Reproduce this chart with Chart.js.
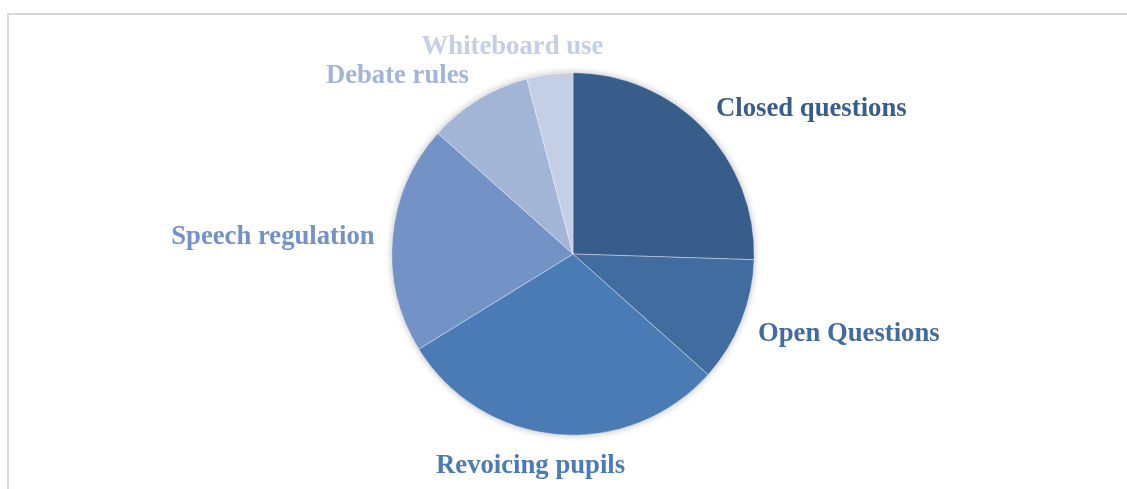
<!DOCTYPE html>
<html>
<head>
<meta charset="utf-8">
<script src="https://cdn.jsdelivr.net/npm/chart.js@4/dist/chart.umd.min.js"></script>
<style>
  html, body { margin: 0; padding: 0; background: #fff; }
  #wrap { position: relative; width: 1127px; height: 489px; overflow: hidden; }
  #frame { position: absolute; left: 7px; top: 13px; width: 1140px; height: 500px; border: 2px solid #d9d9d9; box-sizing: border-box; }
  #pie { position: absolute; left: 0; top: 0; }
</style>
</head>
<body>
<div id="wrap">
  <div id="frame"></div>
  <canvas id="pie" width="1127" height="489"></canvas>
</div>
<script>
const labels = ['Closed questions', 'Open Questions', 'Revoicing pupils', 'Speech regulation', 'Debate rules', 'Whiteboard use'];
const values = [25.5, 11.1, 29.6, 20.4, 9.3, 4.1];
const colors = ['#385D8A', '#416C9F', '#4A7BB5', '#7392C5', '#A3B5D7', '#C4CEE4'];

// soft shadow behind the pie
const pieShadow = {
    id: 'pieShadow',
    beforeDatasetsDraw(chart) {
        const arc = chart.getDatasetMeta(0).data[0];
        if (!arc) return;
        const ctx = chart.ctx;
        ctx.save();
        ctx.shadowColor = 'rgba(0,0,0,0.28)';
        ctx.shadowBlur = 7;
        ctx.fillStyle = '#fff';
        ctx.beginPath();
        ctx.arc(arc.x, arc.y, arc.outerRadius, 0, Math.PI * 2);
        ctx.fill();
        ctx.restore();
    }
};

const clamp = (v) => Math.max(0, Math.min(1, v));

// category labels outside each slice, coloured like the slice
const outsideLabels = {
    id: 'outsideLabels',
    afterDatasetsDraw(chart) {
        const ctx = chart.ctx;
        const meta = chart.getDatasetMeta(0);
        const h = 26.7;
        ctx.save();
        ctx.font = 'bold 26.7px "Liberation Serif", "Times New Roman", serif';
        ctx.textAlign = 'left';
        ctx.textBaseline = 'top';
        meta.data.forEach(function(arc, i) {
            const mid = (arc.startAngle + arc.endAngle) / 2;
            const dx = Math.cos(mid), dy = Math.sin(mid);
            const r = arc.outerRadius + 18;
            const ax = arc.x + dx * r, ay = arc.y + dy * r;
            const w = ctx.measureText(labels[i]).width;
            const left = ax - w * clamp(0.5 - 1.5 * dx);
            const top = ay - h * clamp(0.42 - 0.45 * dy);
            ctx.fillStyle = colors[i];
            ctx.fillText(labels[i], left, top);
        });
        ctx.restore();
    }
};

new Chart(document.getElementById('pie').getContext('2d'), {
    type: 'pie',
    data: {
        labels: labels,
        datasets: [{
            data: values,
            backgroundColor: colors,
            borderColor: 'rgba(255,255,255,0.6)',
            borderWidth: 0.6
        }]
    },
    options: {
        responsive: false,
        animation: false,
        layout: { padding: { left: 19, right: 0, top: 72.5, bottom: 53.5 } },
        plugins: {
            legend: { display: false },
            tooltip: { enabled: false }
        }
    },
    plugins: [pieShadow, outsideLabels]
});
</script>
</body>
</html>
